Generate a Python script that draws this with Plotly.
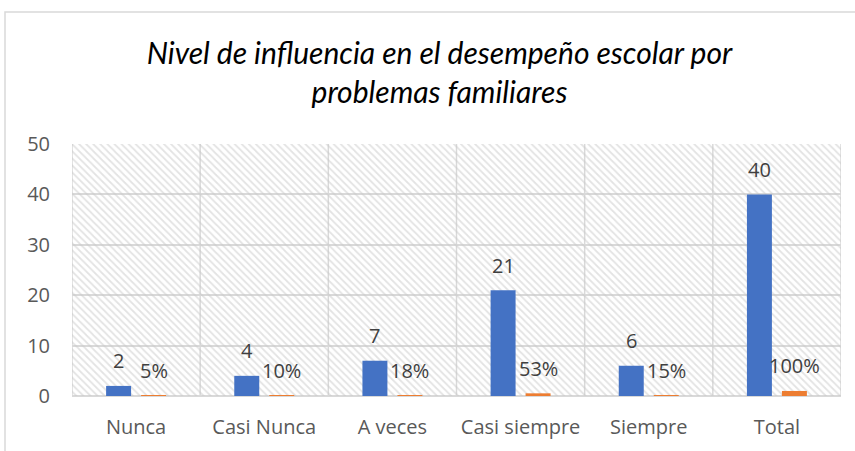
import plotly.graph_objects as go

categories = ["Nunca", "Casi Nunca", "A veces", "Casi siempre", "Siempre", "Total"]
counts = [2, 4, 7, 21, 6, 40]
percents = [0.05, 0.10, 0.18, 0.53, 0.15, 1.00]
y_ticks = [0, 10, 20, 30, 40, 50]

title_text = "Nivel de influencia en el desempeño escolar por<br>problemas familiares"

BLUE = "#4472C4"
ORANGE = "#ED7D31"
GRID = "#D9D9D9"
LABEL = "#404040"
TICK = "#595959"

positions = list(range(len(categories)))
x_lo, x_hi = -0.5, len(categories) - 0.5
y_lo, y_hi = y_ticks[0], y_ticks[-1]

fig = go.Figure()

# hatched plot-area background (transparent between hatch lines), on the base subplot
fig.add_trace(go.Scatter(
    x=[x_lo, x_hi, x_hi, x_lo, x_lo], y=[y_lo, y_lo, y_hi, y_hi, y_lo],
    mode="lines", line=dict(width=0), fill="toself",
    fillcolor="rgba(0,0,0,0)",
    fillpattern=dict(shape="\\", fgcolor="#C8C8C8", bgcolor="rgba(0,0,0,0)",
                     size=5, solidity=0.35, fillmode="overlay"),
    hoverinfo="skip", showlegend=False,
))

# bars on an overlaying subplot so they sit above the hatch
fig.add_trace(go.Bar(x=positions, y=counts, name="Frecuencia", xaxis="x2", yaxis="y2",
                     marker=dict(color=BLUE, line=dict(width=0)),
                     showlegend=False))
fig.add_trace(go.Bar(x=positions, y=percents, name="Porcentaje", xaxis="x2", yaxis="y2",
                     marker=dict(color=ORANGE, line=dict(width=0)),
                     showlegend=False))

label_font = dict(family="Open Sans", size=20, color=LABEL)
annotations = []
for xi, v in zip(positions, counts):
    annotations.append(dict(x=xi, y=v, xref="x2", yref="y2", text=str(v),
                            showarrow=False, xshift=-17.5, yshift=25,
                            yanchor="middle", font=label_font))
for xi, p in zip(positions, percents):
    annotations.append(dict(x=xi, y=p, xref="x2", yref="y2",
                            text=f"{round(p * 100)}%",
                            showarrow=False, xshift=17.5, yshift=25,
                            yanchor="middle", font=label_font))

shapes = []
# vertical category separators
for i in range(len(categories) + 1):
    shapes.append(dict(type="line", xref="x", yref="paper",
                       x0=i - 0.5, x1=i - 0.5, y0=0, y1=1,
                       line=dict(color=GRID, width=1.5), layer="below"))
# outer chart border
shapes.append(dict(type="rect", xref="paper", yref="paper",
                   x0=(5 - 72) / 769, x1=(870 - 72) / 769,
                   y0=(396 - 470) / 252, y1=(396 - 12) / 252,
                   line=dict(color=GRID, width=1.5), fillcolor="rgba(0,0,0,0)"))

tickfont = dict(family="Open Sans", size=20, color=TICK)
fig.update_layout(
    width=855, height=451,
    margin=dict(l=72, r=14, t=144, b=55),
    paper_bgcolor="white", plot_bgcolor="white",
    title=dict(text="<i>" + title_text + "</i>", x=0.514, xanchor="center",
               y=0.857, yanchor="middle",
               font=dict(family="Lato", size=30, color="#000000")),
    barmode="group", bargap=0.454, bargroupgap=0.286,
    xaxis=dict(range=[x_lo, x_hi], tickvals=positions, ticktext=categories,
               showgrid=False, zeroline=False, showline=False, ticks="",
               ticklabelstandoff=17, tickfont=tickfont),
    yaxis=dict(range=[y_lo, y_hi], tickvals=y_ticks, showgrid=True, gridcolor=GRID,
               gridwidth=1.5, zeroline=True, zerolinecolor=GRID, zerolinewidth=1.5,
               showline=False, ticks="", ticklabelstandoff=21, tickfont=tickfont),
    xaxis2=dict(range=[x_lo, x_hi], overlaying="x", visible=False),
    yaxis2=dict(range=[y_lo, y_hi], overlaying="y", visible=False),
    annotations=annotations,
    shapes=shapes,
)

fig.write_html("out.html", config={"displayModeBar": False},
               post_script="document.body.style.margin='0';")
